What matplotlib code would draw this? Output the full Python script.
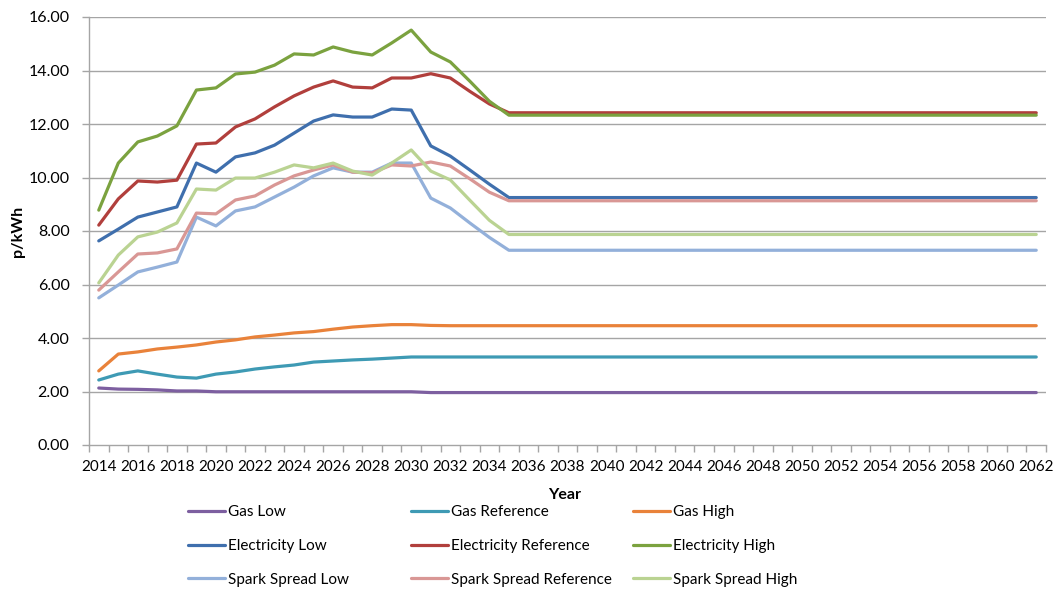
import matplotlib
matplotlib.use("Agg")
import matplotlib.pyplot as plt
from matplotlib.ticker import FixedLocator, NullFormatter, FixedFormatter
import numpy as np

plt.rcParams['font.family'] = ['Lato', 'DejaVu Sans']

years = list(range(2014, 2063))

gas_low = [
    2.13, 2.09, 2.08, 2.06, 2.02, 2.02, 1.99, 1.99, 1.99, 1.99,
    1.99, 1.99, 1.99, 1.99, 1.99, 1.99, 1.99, 1.96, 1.96, 1.96,
    1.96, 1.96, 1.96, 1.96, 1.96, 1.96, 1.96, 1.96, 1.96, 1.96,
    1.96, 1.96, 1.96, 1.96, 1.96, 1.96, 1.96, 1.96, 1.96, 1.96,
    1.96, 1.96, 1.96, 1.96, 1.96, 1.96, 1.96, 1.96, 1.96,
]
gas_ref = [
    2.43, 2.65, 2.77, 2.65, 2.54, 2.50, 2.65, 2.73, 2.84, 2.92,
    2.99, 3.10, 3.14, 3.18, 3.21, 3.25, 3.29, 3.29, 3.29, 3.29,
    3.29, 3.29, 3.29, 3.29, 3.29, 3.29, 3.29, 3.29, 3.29, 3.29,
    3.29, 3.29, 3.29, 3.29, 3.29, 3.29, 3.29, 3.29, 3.29, 3.29,
    3.29, 3.29, 3.29, 3.29, 3.29, 3.29, 3.29, 3.29, 3.29,
]
gas_high = [
    2.77, 3.40, 3.48, 3.59, 3.66, 3.74, 3.85, 3.93, 4.04, 4.11,
    4.19, 4.24, 4.33, 4.41, 4.46, 4.50, 4.50, 4.47, 4.46, 4.46,
    4.46, 4.46, 4.46, 4.46, 4.46, 4.46, 4.46, 4.46, 4.46, 4.46,
    4.46, 4.46, 4.46, 4.46, 4.46, 4.46, 4.46, 4.46, 4.46, 4.46,
    4.46, 4.46, 4.46, 4.46, 4.46, 4.46, 4.46, 4.46, 4.46,
]
elec_low = [
    7.63, 8.07, 8.52, 8.71, 8.90, 10.54, 10.20, 10.77, 10.92, 11.21,
    11.66, 12.11, 12.34, 12.26, 12.26, 12.56, 12.52, 11.18, 10.80, 10.28,
    9.75, 9.25, 9.25, 9.25, 9.25, 9.25, 9.25, 9.25, 9.25, 9.25,
    9.25, 9.25, 9.25, 9.25, 9.25, 9.25, 9.25, 9.25, 9.25, 9.25,
    9.25, 9.25, 9.25, 9.25, 9.25, 9.25, 9.25, 9.25, 9.25,
]
elec_ref = [
    8.22, 9.20, 9.87, 9.83, 9.90, 11.25, 11.29, 11.89, 12.19, 12.64,
    13.05, 13.38, 13.61, 13.38, 13.35, 13.72, 13.72, 13.88, 13.72, 13.22,
    12.75, 12.42, 12.42, 12.42, 12.42, 12.42, 12.42, 12.42, 12.42, 12.42,
    12.42, 12.42, 12.42, 12.42, 12.42, 12.42, 12.42, 12.42, 12.42, 12.42,
    12.42, 12.42, 12.42, 12.42, 12.42, 12.42, 12.42, 12.42, 12.42,
]
elec_high = [
    8.78, 10.54, 11.33, 11.55, 11.93, 13.27, 13.35, 13.87, 13.94, 14.20,
    14.62, 14.58, 14.88, 14.69, 14.58, 15.03, 15.51, 14.69, 14.32, 13.60,
    12.85, 12.33, 12.33, 12.33, 12.33, 12.33, 12.33, 12.33, 12.33, 12.33,
    12.33, 12.33, 12.33, 12.33, 12.33, 12.33, 12.33, 12.33, 12.33, 12.33,
    12.33, 12.33, 12.33, 12.33, 12.33, 12.33, 12.33, 12.33, 12.33,
]
spark_low = [
    5.50, 5.98, 6.47, 6.65, 6.84, 8.52, 8.19, 8.75, 8.90, 9.27,
    9.64, 10.06, 10.36, 10.20, 10.20, 10.54, 10.54, 9.23, 8.86, 8.30,
    7.76, 7.28, 7.28, 7.28, 7.28, 7.28, 7.28, 7.28, 7.28, 7.28,
    7.28, 7.28, 7.28, 7.28, 7.28, 7.28, 7.28, 7.28, 7.28, 7.28,
    7.28, 7.28, 7.28, 7.28, 7.28, 7.28, 7.28, 7.28, 7.28,
]
spark_ref = [
    5.79, 6.47, 7.14, 7.18, 7.33, 8.67, 8.64, 9.16, 9.31, 9.72,
    10.06, 10.28, 10.47, 10.20, 10.17, 10.47, 10.43, 10.58, 10.43, 9.95,
    9.45, 9.13, 9.13, 9.13, 9.13, 9.13, 9.13, 9.13, 9.13, 9.13,
    9.13, 9.13, 9.13, 9.13, 9.13, 9.13, 9.13, 9.13, 9.13, 9.13,
    9.13, 9.13, 9.13, 9.13, 9.13, 9.13, 9.13, 9.13, 9.13,
]
spark_high = [
    6.06, 7.10, 7.78, 7.96, 8.30, 9.57, 9.53, 9.98, 9.98, 10.20,
    10.47, 10.36, 10.54, 10.24, 10.09, 10.54, 11.03, 10.24, 9.91, 9.15,
    8.40, 7.87, 7.87, 7.87, 7.87, 7.87, 7.87, 7.87, 7.87, 7.87,
    7.87, 7.87, 7.87, 7.87, 7.87, 7.87, 7.87, 7.87, 7.87, 7.87,
    7.87, 7.87, 7.87, 7.87, 7.87, 7.87, 7.87, 7.87, 7.87,
]

series_names = [
    "Gas Low", "Gas Reference", "Gas High",
    "Electricity Low", "Electricity Reference", "Electricity High",
    "Spark Spread Low", "Spark Spread Reference", "Spark Spread High",
]
series_values = [gas_low, gas_ref, gas_high,
                 elec_low, elec_ref, elec_high,
                 spark_low, spark_ref, spark_high]
series_colors = ["#7D5FA0", "#3E9AB4", "#E9823A",
                 "#3F6FAD", "#B13F3C", "#7BA23F",
                 "#93B0DA", "#D99795", "#BAD392"]

y_ticks = [0, 2, 4, 6, 8, 10, 12, 14, 16]
y_tick_labels = ["0.00", "2.00", "4.00", "6.00", "8.00",
                 "10.00", "12.00", "14.00", "16.00"]

fig = plt.figure(figsize=(10.57, 5.89), dpi=100)
ax = fig.add_axes([89 / 1057, 1 - 445 / 589, (1046 - 89) / 1057, (445 - 17) / 589])

x = np.arange(len(years))
handles = []
for name, vals, col in zip(series_names, series_values, series_colors):
    (ln,) = ax.plot(x, vals, color=col, lw=2.3, label=name,
                    solid_joinstyle="round", solid_capstyle="round", zorder=3)
    handles.append(ln)

grid_color = "#A5A5A5"
ax.set_ylim(0, 16)
ax.set_xlim(-0.5, len(years) - 0.5)
ax.set_yticks(y_ticks)
ax.set_yticklabels(y_tick_labels)
for yv in y_ticks[1:]:
    ax.axhline(yv, color=grid_color, lw=1.0, zorder=1)

# Category boundaries get tick marks; every other year gets a label
ax.xaxis.set_major_locator(FixedLocator(np.arange(-0.5, len(years), 1.0)))
ax.xaxis.set_major_formatter(NullFormatter())
label_pos = [i for i, yr in enumerate(years) if yr % 2 == 0]
ax.xaxis.set_minor_locator(FixedLocator(label_pos))
ax.xaxis.set_minor_formatter(FixedFormatter([str(years[i]) for i in label_pos]))
ax.tick_params(axis="x", which="major", length=5, width=1, color=grid_color, direction="out")
ax.tick_params(axis="x", which="minor", length=0, pad=11, labelsize=11, labelcolor="#000000")
ax.tick_params(axis="y", which="major", length=5, width=1, color=grid_color, direction="out",
               pad=9, labelsize=11.5, labelcolor="#000000")

for s in ["top", "right"]:
    ax.spines[s].set_visible(False)
for s in ["left", "bottom"]:
    ax.spines[s].set_color(grid_color)
    ax.spines[s].set_linewidth(1.0)

fig.text(18 / 1057, 1 - 231 / 589, "p/kWh", rotation=90, ha="center", va="center",
         fontsize=11.5, fontweight="bold")
fig.text(565 / 1057, 1 - 495 / 589, "Year", ha="center", va="center",
         fontsize=11.5, fontweight="bold")

# Legend: three columns, each its own block so the column pitch stays even
col_x = [188, 411, 633]
for c in range(3):
    hs = [handles[c + 3 * r] for r in range(3)]
    fig.legend(hs, [h.get_label() for h in hs], loc="upper left",
               bbox_to_anchor=(col_x[c] / 1057, 1 - 505 / 589),
               frameon=False, fontsize=11, handlelength=2.4, handletextpad=0.2,
               borderpad=0, borderaxespad=0, labelspacing=1.3)

fig.savefig("out.png", dpi=100)
